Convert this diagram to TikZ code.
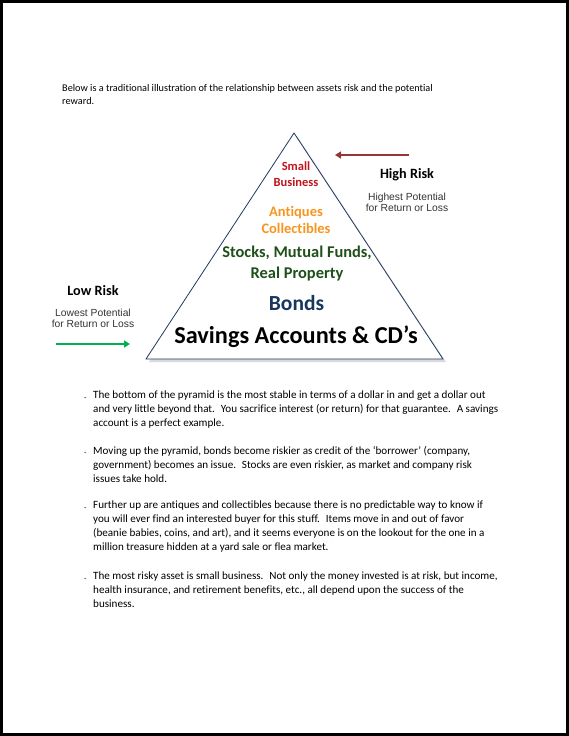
\documentclass[tikz,border=0pt]{standalone}
\usepackage{fontspec}
\setmainfont{Carlito}[Ligatures=CommonOff]
\newfontfamily\arialf{Liberation Sans}
\usetikzlibrary{arrows.meta}
\definecolor{sbred}{RGB}{192,20,30}
\definecolor{antorange}{RGB}{247,150,30}
\definecolor{stkgreen}{RGB}{30,80,25}
\definecolor{bondblue}{RGB}{23,55,94}
\definecolor{trinavy}{RGB}{31,56,100}
\definecolor{arrgreen}{RGB}{0,176,80}
\definecolor{arrred}{RGB}{149,55,53}
\tikzset{
  body/.style={font=\fontsize{11.1}{13.9}\selectfont, inner sep=0pt, align=left, anchor=north west},
  intro/.style={font=\fontsize{10.25}{12.8}\selectfont, inner sep=0pt, align=left, anchor=north west},
  bul/.style={font=\fontsize{8}{9}\selectfont, inner sep=0pt, anchor=north west},
  lvl/.style={inner sep=0pt, align=center},
  risk/.style={inner sep=0pt, font=\bfseries\fontsize{14.2}{16}\selectfont},
  pot/.style={inner sep=0pt, align=center, font=\arialf\fontsize{10.3}{11.4}\selectfont, text=black!80},
}
\begin{document}
\begin{tikzpicture}[x=1pt,y=-1pt]
\useasboundingbox (0,0) rectangle (569,736);
\draw[line width=2.2pt] (1.5,1.5) rectangle (567.5,734.5);

% intro
\node[intro] (intro) at (62,84.5) {Below is a traditional illustration of the relationship between assets risk and the potential\\reward.};

% pyramid
\coordinate (apex) at (294,133);
\coordinate (bl) at (146,359);
\coordinate (br) at (443,359);
\fill[black!15] ([shift={(3,3)}]apex) -- ([shift={(3,3)}]br) -- ([shift={(3,3)}]bl) -- cycle;
\filldraw[fill=white, draw=trinavy, line width=0.8pt] (apex) -- (br) -- (bl) -- cycle;

\node[lvl, text=sbred, font=\bfseries\fontsize{12.5}{16}\selectfont] (sb) at (296,174.5) {Small\\Business};
\node[lvl, text=antorange, font=\bfseries\fontsize{14.5}{17.5}\selectfont] (ant) at (296,220) {Antiques\\Collectibles};
\node[lvl, text=stkgreen, font=\bfseries\fontsize{16.4}{21}\selectfont] (stk) at (297,264) {Stocks, Mutual Funds,\\Real Property};
\node[lvl, text=bondblue, font=\bfseries\fontsize{21.5}{24}\selectfont] (bonds) at (296.5,303) {Bonds};
\node[lvl, text=black, font=\bfseries\fontsize{24.3}{28}\selectfont] (sav) at (296,337) {Savings Accounts \& CD’s};

% low risk
\node[risk] (low) at (93,291) {Low Risk};
\node[pot] (lowp) at (93,318.5) {Lowest Potential\\for Return or Loss};
\coordinate (ga) at (56,344);
\coordinate (gb) at (130,344);
\draw[arrgreen, line width=2.5pt, -{Triangle[length=6pt,width=7pt]}] (ga) -- (gb);

% high risk
\node[risk] (high) at (407,174.5) {High Risk};
\node[pot] (highp) at (407,202.5) {Highest Potential\\for Return or Loss};
\coordinate (ra) at (409,155);
\coordinate (rb) at (335,155);
\draw[arrred, line width=2.5pt, -{Triangle[length=6pt,width=7pt]}] (ra) -- (rb);

% bullets
\node[bul] (b1) at (84,398) {-};
\node[body] (p1) at (93,391) {The bottom of the pyramid is the most stable in terms of a dollar in and get a dollar out\\and very little beyond that.~ You sacrifice interest (or return) for that guarantee.~ A savings\\account is a perfect example.};
\node[bul] (b2) at (84,453) {-};
\node[body] (p2) at (93,446) {Moving up the pyramid, bonds become riskier as credit of the ‘borrower’ (company,\\government) becomes an issue.~ Stocks are even riskier, as market and company risk\\issues take hold.};
\node[bul] (b3) at (84,508) {-};
\node[body] (p3) at (93,501) {Further up are antiques and collectibles because there is no predictable way to know if\\you will ever find an interested buyer for this stuff.~ Items move in and out of favor\\(beanie babies, coins, and art), and it seems everyone is on the lookout for the one in a\\million treasure hidden at a yard sale or flea market.};
\node[bul] (b4) at (84,579) {-};
\node[body] (p4) at (93,572) {The most risky asset is small business.~ Not only the money invested is at risk, but income,\\health insurance, and retirement benefits, etc., all depend upon the success of the\\business.};
\end{tikzpicture}
\end{document}
